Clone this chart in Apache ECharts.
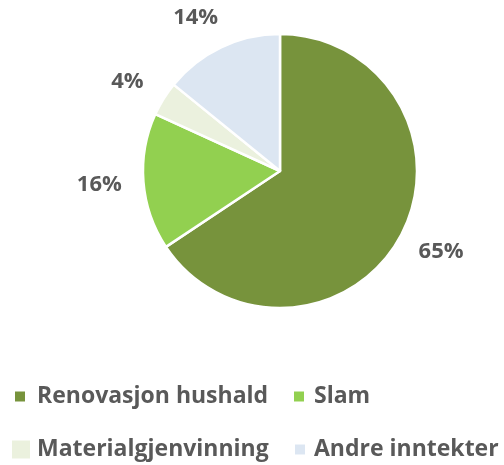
<!DOCTYPE html>
<html>
<head>
<meta charset="utf-8">
<script src="https://cdn.jsdelivr.net/npm/echarts@6/dist/echarts.min.js"></script>
<style>
  html, body { margin: 0; padding: 0; background: #fff; }
  #chart { width: 504px; height: 465px; }
</style>
</head>
<body>
<div id="chart"></div>
<script>
// data
var categories = ['Renovasjon hushald', 'Slam', 'Materialgjenvinning', 'Andre inntekter'];
var values = [65, 16, 4, 14];
var colors = ['#77933C', '#92D050', '#EBF1DE', '#DCE6F2'];

var textColor = '#595959';
var fontFamily = '"Open Sans", sans-serif';
var pieCenter = [280, 171];
var pieRadius = 137;
var labelRadius = 170;

// legend placement, one small legend per item (textX = where the text starts)
var legendPos = [
    { left: 13, top: 385, size: 12, textX: 36 },
    { left: 292, top: 385, size: 12, textX: 313 },
    { left: 10, top: 438, size: 20, textX: 36 },
    { left: 293, top: 438, size: 12, textX: 313 }
];

var legends = function () {
    var list = [];
    for (var i = 0; i < categories.length; i++) {
        var p = legendPos[i];
        list.push({
            data: [categories[i]],
            left: p.left,
            top: p.top,
            padding: 0,
            itemWidth: p.size,
            itemHeight: p.size,
            icon: 'rect',
            selectedMode: false,
            textStyle: {
                color: textColor,
                fontSize: 23,
                fontWeight: 'bold',
                fontFamily: fontFamily,
                padding: [0, 0, 0, p.textX - p.left - p.size - 5]
            }
        });
    }
    return list;
}();

var option = {
    backgroundColor: '#fff',
    animation: false,
    color: colors,
    legend: legends,
    series: [{
        type: 'pie',
        center: pieCenter,
        radius: pieRadius,
        startAngle: 90,
        clockwise: true,
        itemStyle: {
            borderColor: '#fff',
            borderWidth: 2.5
        },
        label: {
            show: true,
            position: 'outside',
            formatter: '{c}%',
            color: textColor,
            fontSize: 22,
            fontWeight: 'bold',
            fontFamily: fontFamily,
            distanceToLabelLine: 0
        },
        labelLine: {
            show: false,
            length: 10,
            length2: 0
        },
        // put the label on a circle round the pie, pushed a bit outwards sideways
        labelLayout: function (params) {
            var r = params.labelRect;
            var ax = params.align === 'right' ? r.x + r.width : r.x;
            var ay = r.y + r.height / 2;
            var dx = ax - pieCenter[0];
            var dy = ay - pieCenter[1];
            var len = Math.sqrt(dx * dx + dy * dy);
            return {
                x: pieCenter[0] + dx / len * labelRadius + (dx < 0 ? -1 : 1) * r.width / 4,
                y: pieCenter[1] + dy / len * labelRadius,
                align: 'center',
                verticalAlign: 'middle'
            };
        },
        emphasis: { disabled: true },
        data: function () {
            var d = [];
            for (var i = 0; i < categories.length; i++) {
                d.push({ name: categories[i], value: values[i] });
            }
            return d;
        }()
    }]
};

var myChart = echarts.init(document.getElementById('chart'));
myChart.setOption(option);
</script>
</body>
</html>
